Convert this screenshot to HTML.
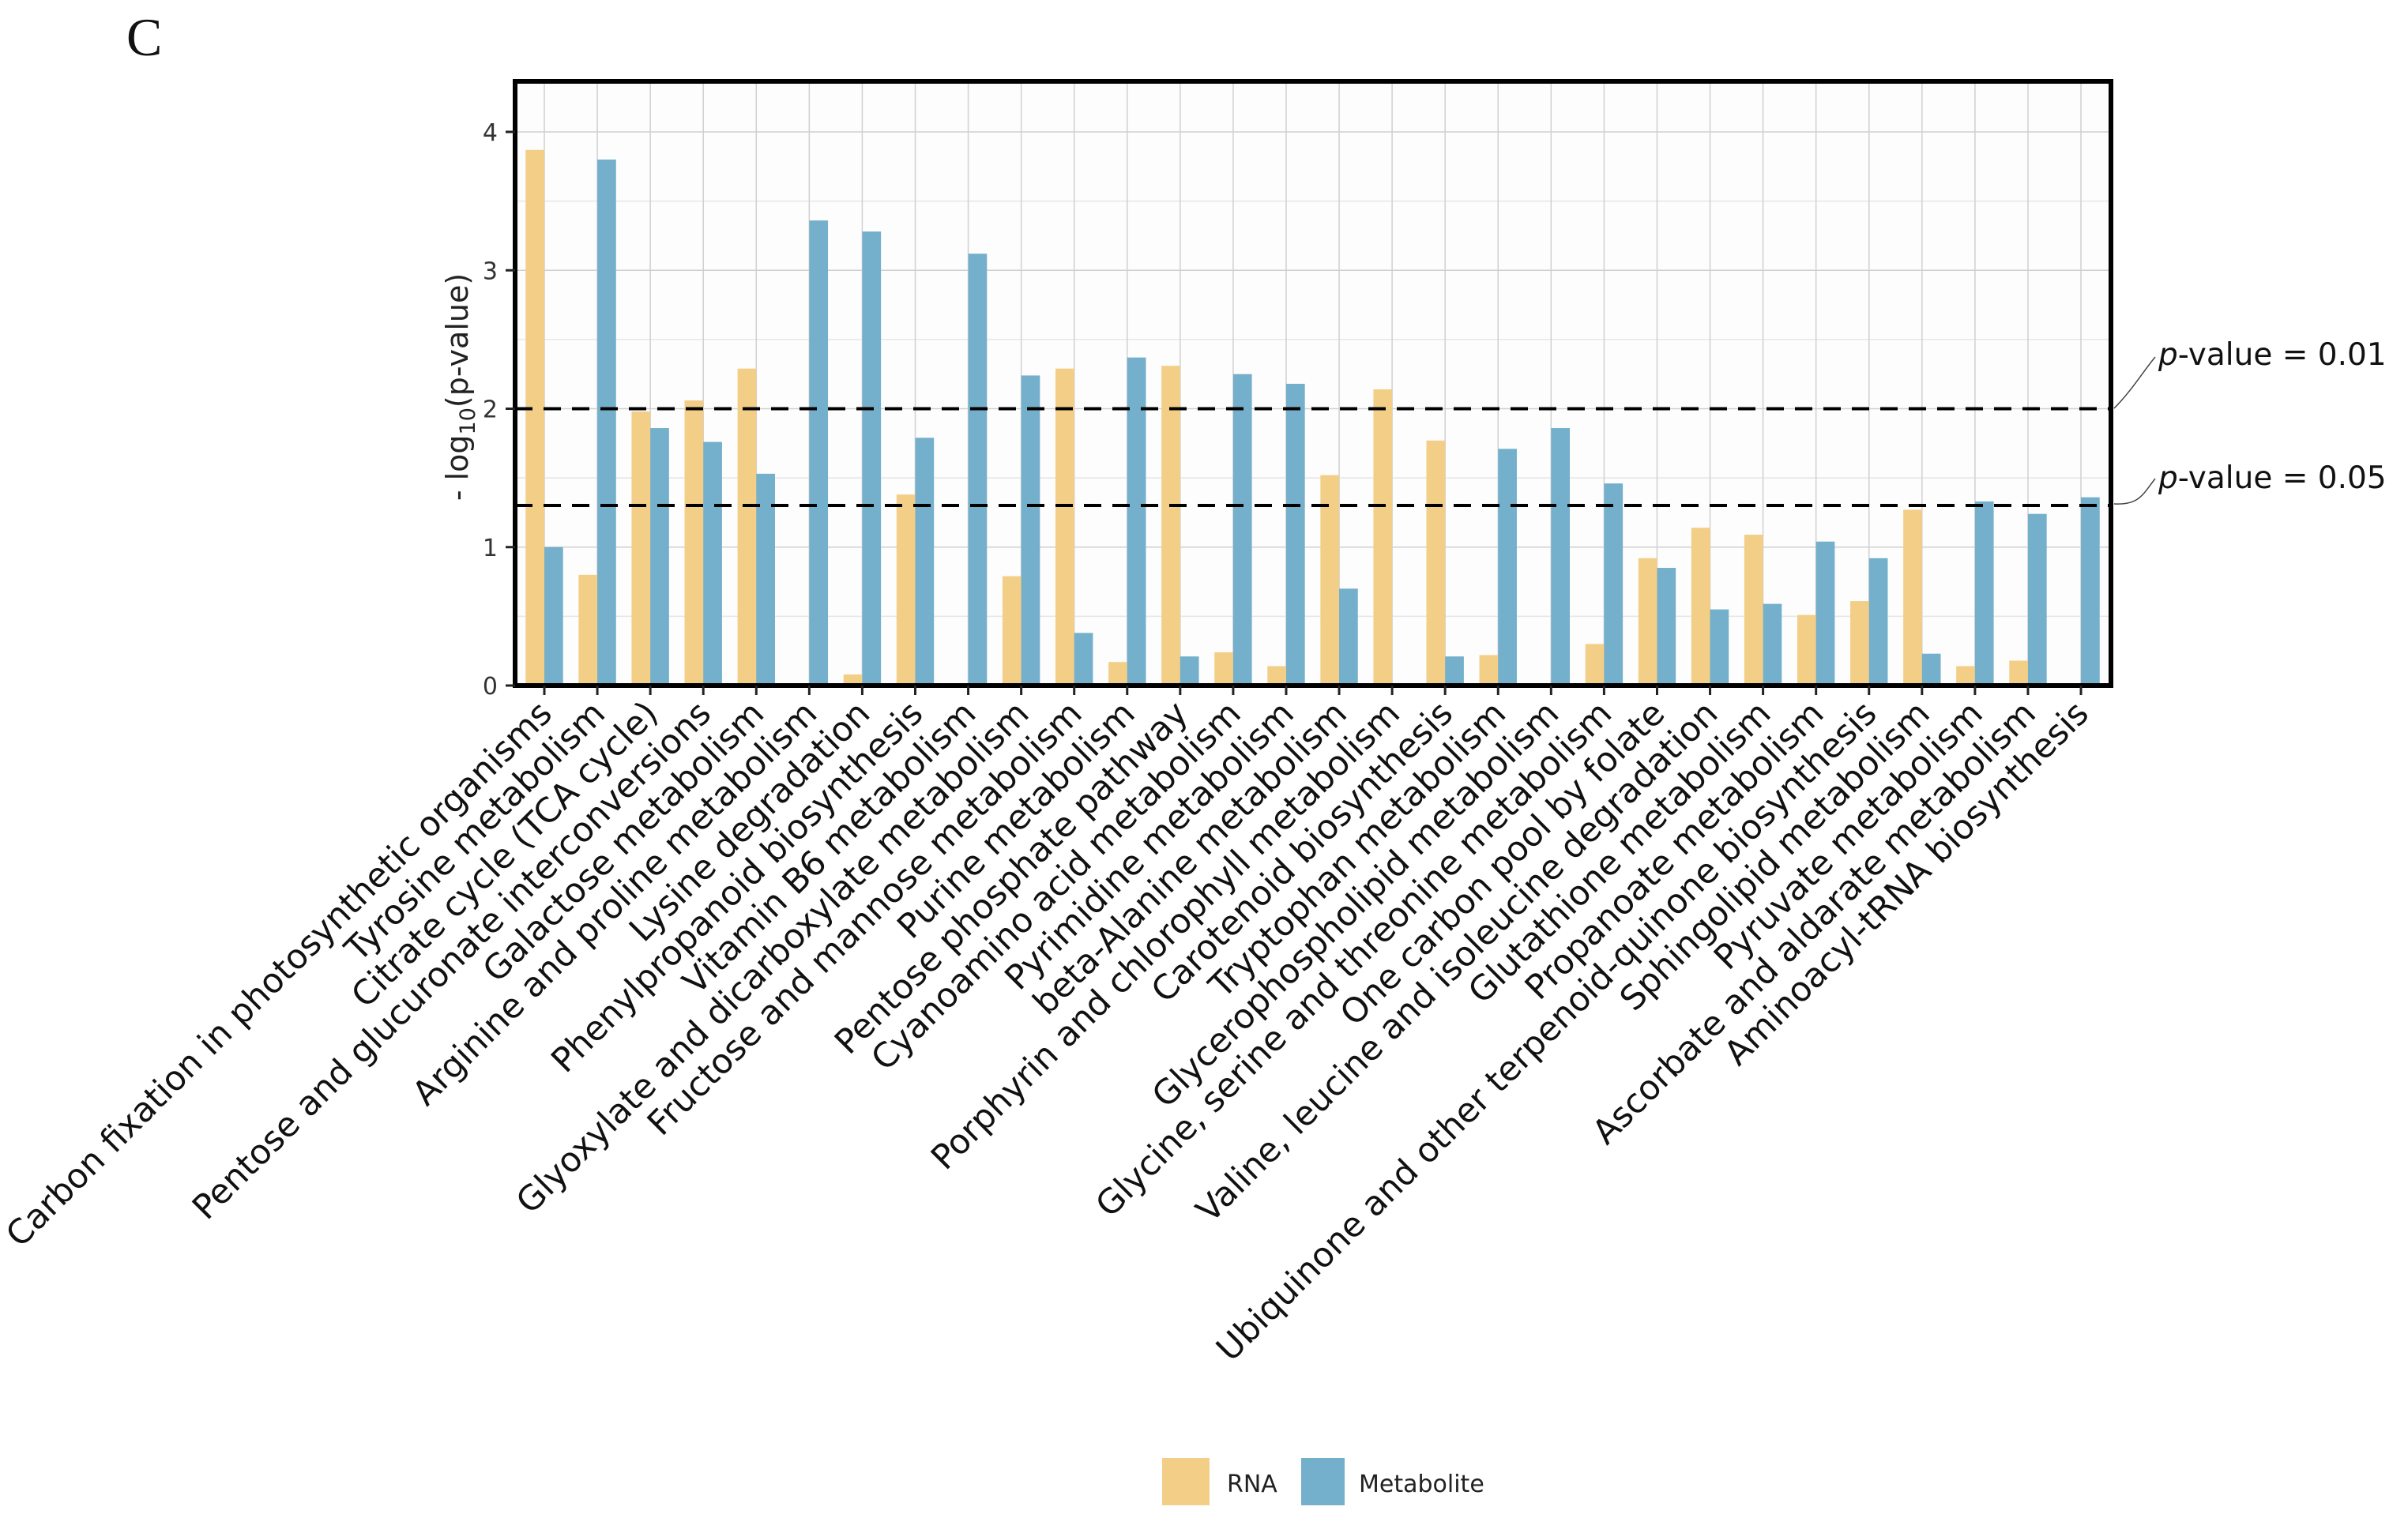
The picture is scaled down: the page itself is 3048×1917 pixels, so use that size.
<!DOCTYPE html>
<html><head><meta charset="utf-8"><style>
html,body{margin:0;padding:0;background:#fff}
svg{display:block}
text{font-family:"DejaVu Sans","Liberation Sans",sans-serif}
</style></head><body>
<svg id="chart" width="3048" height="1917" viewBox="0 0 3048 1917" xmlns="http://www.w3.org/2000/svg">
<text x="160" y="70" font-family="Liberation Serif, serif" style="font-family:'Liberation Serif',serif" font-size="68" fill="#111">C</text>
<g id="grid"></g>
<g id="bars"></g>
<g id="thresholds"></g>
<g id="axes"></g>
<g id="xlabels"></g>
<text transform="translate(592,490) rotate(-90)" text-anchor="middle" font-size="38" fill="#222">- log<tspan font-size="27" dy="9">10</tspan><tspan dy="-9">(p-value)</tspan></text>
<g>
<path d="M2676,517 C2698,495 2713,470 2728,452" fill="none" stroke="#444" stroke-width="1.5"/>
<text x="2732" y="462" font-size="39" fill="#111"><tspan font-style="italic">p</tspan>-value = 0.01</text>
</g>
<g>
<path d="M2676,638 C2708,640 2713,625 2728,606" fill="none" stroke="#444" stroke-width="1.5"/>
<text x="2732" y="618" font-size="39" fill="#111"><tspan font-style="italic">p</tspan>-value = 0.05</text>
</g>
<g>
<rect x="1471" y="1846" width="60" height="60" fill="#F3CE87"/>
<text x="1553" y="1889" font-size="30" fill="#222">RNA</text>
<rect x="1647" y="1846" width="55" height="60" fill="#74AFCB"/>
<text x="1720" y="1889" font-size="30" fill="#222">Metabolite</text>
</g>
</svg>
<script>
const categories = ["Carbon fixation in photosynthetic organisms","Tyrosine metabolism","Citrate cycle (TCA cycle)","Pentose and glucuronate interconversions","Galactose metabolism","Arginine and proline metabolism","Lysine degradation","Phenylpropanoid biosynthesis","Vitamin B6 metabolism","Glyoxylate and dicarboxylate metabolism","Fructose and mannose metabolism","Purine metabolism","Pentose phosphate pathway","Cyanoamino acid metabolism","Pyrimidine metabolism","beta-Alanine metabolism","Porphyrin and chlorophyll metabolism","Carotenoid biosynthesis","Tryptophan metabolism","Glycerophospholipid metabolism","Glycine, serine and threonine metabolism","One carbon pool by folate","Valine, leucine and isoleucine degradation","Glutathione metabolism","Propanoate metabolism","Ubiquinone and other terpenoid-quinone biosynthesis","Sphingolipid metabolism","Pyruvate metabolism","Ascorbate and aldarate metabolism","Aminoacyl-tRNA biosynthesis"];
const rnaValues = [3.87,0.80,1.98,2.06,2.29,0,0.08,1.38,0,0.79,2.29,0.17,2.31,0.24,0.14,1.52,2.14,1.77,0.22,0,0.30,0.92,1.14,1.09,0.51,0.61,1.27,0.14,0.18,0];
const metaboliteValues = [1.00,3.80,1.86,1.76,1.53,3.36,3.28,1.79,3.12,2.24,0.38,2.37,0.21,2.25,2.18,0.70,0,0.21,1.71,1.86,1.46,0.85,0.55,0.59,1.04,0.92,0.23,1.33,1.24,1.36];
const yTicks = [0,1,2,3,4];
const thresholdValues = [2, 1.301];

const NS="http://www.w3.org/2000/svg";
const L=652, R=2672, T=103, B=868;
const y0px=868, perUnit=175.25;
const x0=689, step=67.07, barW=23.7;
function xScale(i){return x0+i*step;}
function yScale(v){return y0px - v*perUnit;}
function mk(tag,attrs,parent){const e=document.createElementNS(NS,tag);for(const k in attrs)e.setAttribute(k,attrs[k]);parent.appendChild(e);return e;}

const grid=document.getElementById('grid');
mk('rect',{x:L,y:T,width:R-L,height:B-T,fill:'#fdfdfd'},grid);
for(let v=0; v<=4.3; v+=0.5){
  const g=mk('line',{x1:L,x2:R,y1:yScale(v),y2:yScale(v),stroke: v%1===0?'#d0d0d0':'#e6e6e6','stroke-width':1.5},grid);
  
  
}
categories.forEach((c,i)=>{
  const g=mk('line',{x1:xScale(i),x2:xScale(i),y1:T,y2:B,stroke:'#d0d0d0','stroke-width':1.5},grid);
  
  
});

const bars=document.getElementById('bars');
categories.forEach((c,i)=>{
  const cx=xScale(i);
  const r=mk('rect',{x:cx-barW,y:yScale(rnaValues[i]),width:barW,height:rnaValues[i]*perUnit,fill:'#F3CE87'},bars);
  
  
  const m=mk('rect',{x:cx,y:yScale(metaboliteValues[i]),width:barW,height:metaboliteValues[i]*perUnit,fill:'#74AFCB'},bars);
  
  
});

const th=document.getElementById('thresholds');
thresholdValues.forEach(v=>{
  const l=mk('line',{x1:L,x2:R,y1:yScale(v),y2:yScale(v),stroke:'#000','stroke-width':4,'stroke-dasharray':'22 14'},th);
  
  
});

const axes=document.getElementById('axes');
mk('rect',{x:L,y:T,width:R-L,height:B-T,fill:'none',stroke:'#000','stroke-width':6},axes);
yTicks.forEach(v=>{
  mk('line',{x1:L-12,x2:L,y1:yScale(v),y2:yScale(v),stroke:'#222','stroke-width':3},axes);
  const t=mk('text',{x:L-22,y:yScale(v)+11,'text-anchor':'end','font-size':30,fill:'#333'},axes);
  t.textContent=v;
  
  
});
const xl=document.getElementById('xlabels');
categories.forEach((c,i)=>{
  mk('line',{x1:xScale(i),x2:xScale(i),y1:B,y2:B+12,stroke:'#222','stroke-width':3},axes);
  const ax=xScale(i)+12, ay=B+38;
  const t=mk('text',{x:ax,y:ay,'text-anchor':'end','font-size':43,fill:'#111',transform:`rotate(-45 ${ax} ${ay})`},xl);
  t.textContent=c;
  
  
});
</script>
</body></html>
